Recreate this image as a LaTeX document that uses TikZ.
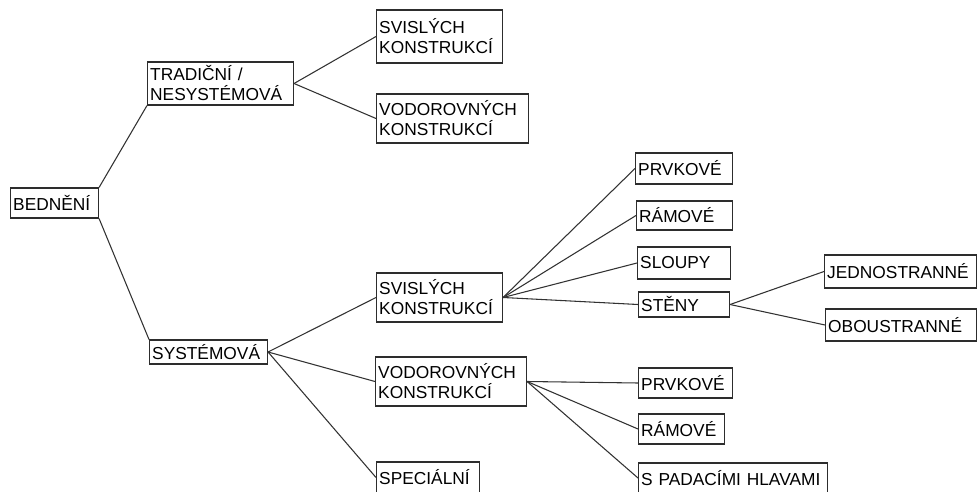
\documentclass[tikz,border=0pt]{standalone}
\usepackage{fontspec}
\setmainfont{Liberation Sans}
\usepackage{tikz}
\usetikzlibrary{positioning}
\definecolor{boxline}{RGB}{45, 45, 45}
\definecolor{linkcolor}{RGB}{50, 50, 50}

\begin{document}
\begin{tikzpicture}[
    x=0.75pt, y=-0.75pt,
    item/.style={draw=boxline, line width=0.8pt, anchor=west, align=left, inner xsep=2pt, inner ysep=1pt, font=\fontsize{13}{15}\selectfont},
    link/.style={draw=linkcolor, line width=0.8pt}
]
    \useasboundingbox (0,0) rectangle (978,492);

    % Root
    \node[item, text width=62pt, minimum height=22.5pt] (bedneni) at (10, 203) {BEDNĚNÍ};

    % Main groups
    \node[item, text width=105.5pt, minimum height=32.25pt] (tradicni) at (147, 83.5) {TRADIČNÍ /\\NESYSTÉMOVÁ};
    \node[item, text width=84.5pt, minimum height=18pt] (system) at (149, 352) {SYSTÉMOVÁ};

    % Traditional
    \node[item, text width=90.5pt, minimum height=39.75pt] (tsvisle) at (376, 36.5) {SVISLÝCH\\KONSTRUKCÍ};
    \node[item, text width=110pt, minimum height=36.75pt] (tvodor) at (376, 118.5) {VODOROVNÝCH\\KONSTRUKCÍ};

    % System
    \node[item, text width=90.5pt, minimum height=36.75pt] (ssvisle) at (376, 297.5) {SVISLÝCH\\KONSTRUKCÍ};
    \node[item, text width=109.25pt, minimum height=36.75pt] (svodor) at (375, 381.5) {VODOROVNÝCH\\KONSTRUKCÍ};
    \node[item, text width=73.25pt, minimum height=23.25pt] (special) at (376, 477.5) {SPECIÁLNÍ};

    % Vertical structures
    \node[item, text width=68.75pt, minimum height=23.25pt] (vprvky) at (635, 168.5) {PRVKOVÉ};
    \node[item, text width=68pt, minimum height=21.75pt] (vramy) at (636, 215.5) {RÁMOVÉ};
    \node[item, text width=65.75pt, minimum height=24pt] (sloupy) at (637, 263) {SLOUPY};
    \node[item, text width=64.25pt, minimum height=18.75pt] (steny) at (638, 304.5) {STĚNY};

    % Walls
    \node[item, text width=110pt, minimum height=24.75pt] (jedno) at (824, 271.5) {JEDNOSTRANNÉ};
    \node[item, text width=109.25pt, minimum height=24pt] (obou) at (825, 325) {OBOUSTRANNÉ};

    % Horizontal structures
    \node[item, text width=66.5pt, minimum height=22.5pt] (hprvky) at (638, 383) {PRVKOVÉ};
    \node[item, text width=60.5pt, minimum height=22.5pt] (hramy) at (638, 429) {RÁMOVÉ};
    \node[item, text width=137.75pt, minimum height=22.5pt] (padaci) at (638, 478) {S PADACÍMI HLAVAMI};

    % Connections
    \draw[link] (bedneni.north east) -- (tradicni.south west);
    \draw[link] (bedneni.south east) -- (system.north west);

    \draw[link] (tradicni.east) -- (tsvisle.west);
    \draw[link] (tradicni.east) -- (tvodor.west);

    \draw[link] (system.east) -- (ssvisle.west);
    \draw[link] (system.east) -- (svodor.west);
    \draw[link] (system.east) -- (special.west);

    \draw[link] (ssvisle.east) -- (vprvky.west);
    \draw[link] (ssvisle.east) -- (vramy.west);
    \draw[link] (ssvisle.east) -- (sloupy.west);
    \draw[link] (ssvisle.east) -- (steny.west);

    \draw[link] (steny.east) -- (jedno.west);
    \draw[link] (steny.east) -- (obou.west);

    \draw[link] (svodor.east) -- (hprvky.west);
    \draw[link] (svodor.east) -- (hramy.west);
    \draw[link] (svodor.east) -- (padaci.west);

\end{tikzpicture}
\end{document}
